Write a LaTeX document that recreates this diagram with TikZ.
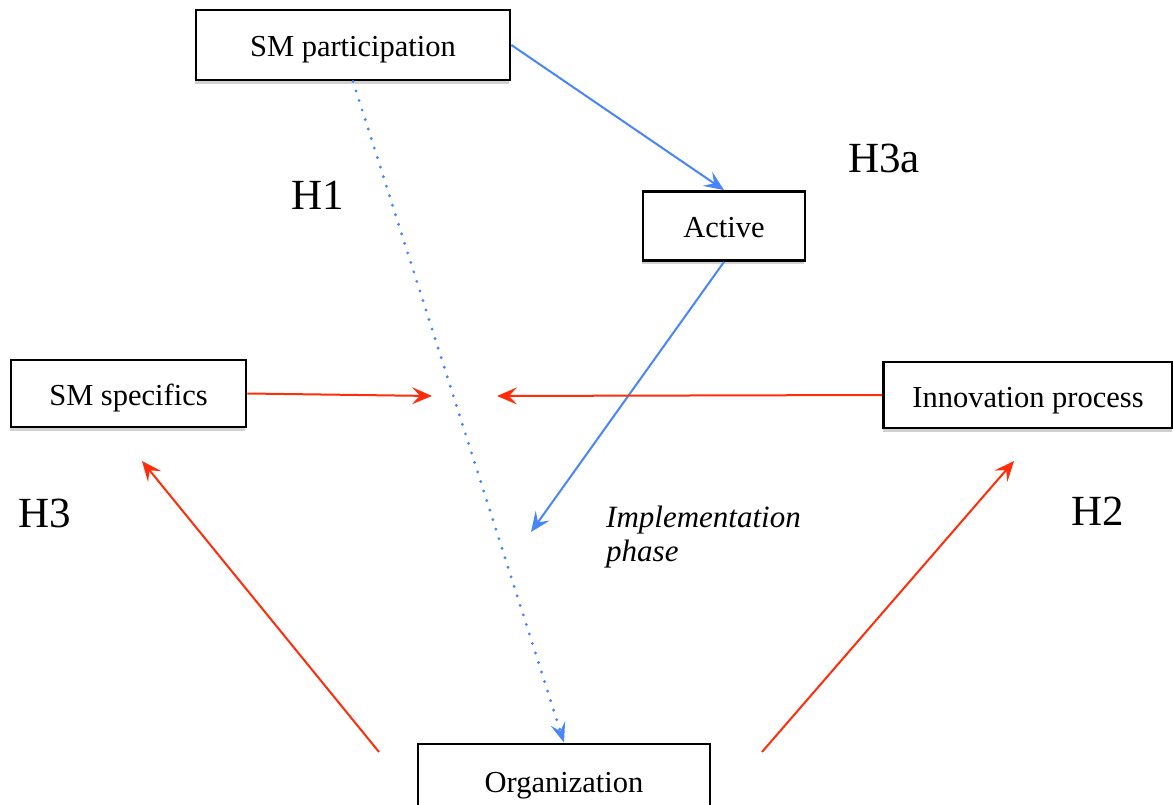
\documentclass[tikz,border=0pt]{standalone}
\usepackage{fontspec}
\setmainfont{Liberation Serif}
\usetikzlibrary{arrows.meta,shadows}
\definecolor{myblue}{RGB}{72,132,250}
\definecolor{myred}{RGB}{255,45,10}
\tikzset{
  box/.style={draw=black, line width=2.8pt, fill=white, rectangle, inner sep=0pt,
    text height=24pt, text depth=0pt,
    font=\fontsize{30.5}{34}\selectfont,
    drop shadow={shadow xshift=-1pt, shadow yshift=-4pt, opacity=0.18, fill=black}},
  hyp/.style={font=\fontsize{43}{48}\selectfont},
  bluearrow/.style={draw=myblue, line width=2pt, -{Stealth[length=20pt,width=17pt,inset=8pt]}},
  bluedots/.style={draw=myblue, line width=3.2pt, dash pattern=on 0pt off 10pt, line cap=round,
    -{Stealth[length=20pt,width=15pt,inset=8pt,line cap=butt,line width=2pt]}},
  redarrow/.style={draw=myred, line width=2pt, -{Stealth[length=20pt,width=17pt,inset=8pt]}}
}
\begin{document}
\begin{tikzpicture}[x=1pt,y=-1pt]
\useasboundingbox (0,0) rectangle (1173,805);
\node[box, minimum width=314pt, minimum height=70pt] (spp) at (353,45) {SM participation};
\node[box, minimum width=162pt, minimum height=69pt] (act) at (724,226) {Active};
\node[box, minimum width=235pt, minimum height=67pt] (sms) at (128.5,393.5) {SM specifics};
\node[box, minimum width=289pt, minimum height=66pt] (inn) at (1028,395) {Innovation process};
\node[box, minimum width=292pt, minimum height=72pt] (org) at (564,780) {Organization};

\coordinate (c1) at (432,396);
\coordinate (c2) at (497,396);
\coordinate (c3) at (531,532);
\coordinate (r1s) at (379,752);
\coordinate (r1e) at (142,461);
\coordinate (r2s) at (762,752);
\coordinate (r2e) at (1014,461);

\draw[bluearrow] (spp.east) -- (act.north);
\draw[bluearrow] (act.south) -- (c3);
\draw[bluedots] (spp.south) -- (org.north);
\draw[redarrow] (sms.east) -- (c1);
\draw[redarrow] (inn.west) -- (c2);
\draw[redarrow] (r1s) -- (r1e);
\draw[redarrow] (r2s) -- (r2e);

\node[hyp, anchor=base] (h1) at (318,210) {H1};
\node[hyp, anchor=base] (h3a) at (884,173) {H3a};
\node[hyp, anchor=base] (h3) at (45,527) {H3};
\node[hyp, anchor=base] (h2) at (1098,525) {H2};
\node[anchor=base west, align=left, inner sep=0pt, font=\fontsize{31}{34}\selectfont\itshape] (imp) at (606,561) {Implementation\\phase};
\end{tikzpicture}
\end{document}
